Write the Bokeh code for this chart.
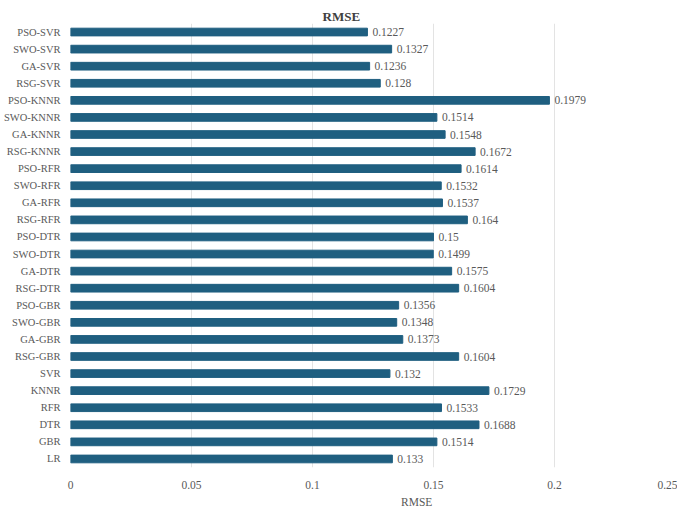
from bokeh.plotting import figure
from bokeh.layouts import column
from bokeh.models import ColumnDataSource, Legend, LegendItem, FactorRange, FixedTicker, LabelSet
from bokeh.embed import file_html
from bokeh.resources import INLINE

categories = ["LR", "GBR", "DTR", "RFR", "KNNR", "SVR",
              "RSG-GBR", "GA-GBR", "SWO-GBR", "PSO-GBR",
              "RSG-DTR", "GA-DTR", "SWO-DTR", "PSO-DTR",
              "RSG-RFR", "GA-RFR", "SWO-RFR", "PSO-RFR",
              "RSG-KNNR", "GA-KNNR", "SWO-KNNR", "PSO-KNNR",
              "RSG-SVR", "GA-SVR", "SWO-SVR", "PSO-SVR"]
rmse = [0.133, 0.1514, 0.1688, 0.1533, 0.1729, 0.132,
        0.1604, 0.1373, 0.1348, 0.1356,
        0.1604, 0.1575, 0.1499, 0.15,
        0.164, 0.1537, 0.1532, 0.1614,
        0.1672, 0.1548, 0.1514, 0.1979,
        0.128, 0.1236, 0.1327, 0.1227]
x_ticks = [0, 0.05, 0.1, 0.15, 0.2, 0.25]
x_tick_labels = ["0", "0.05", "0.1", "0.15", "0.2", "0.25"]
series_name = "RMSE"

FONT = "Liberation Serif"
GREY = "#595959"
BAR = "#1F5F80"

src = ColumnDataSource(dict(cat=categories, val=rmse, lab=[f"{v:g}" for v in rmse]))

p = figure(frame_width=605, frame_height=444,
           y_range=FactorRange(*categories, range_padding=0),
           x_range=(0, 0.25), output_backend="svg", toolbar_location=None,
           min_border_left=62, min_border_right=2, min_border_top=23, min_border_bottom=0)

r = p.hbar(y="cat", right="val", height=0.45, source=src, color=BAR)

labels = LabelSet(x="val", y="cat", text="lab", source=src, x_offset=5, y_offset=0,
                  text_font=FONT, text_font_size="11.5px", text_color=GREY,
                  text_baseline="middle")
p.add_layout(labels)

p.title.text = series_name
p.title.text_font = FONT
p.title.text_font_size = "13px"
p.title.text_font_style = "bold"
p.title.text_color = "#404040"
p.title.align = "left"
p.title.offset = 252
p.title.standoff = 0

p.outline_line_color = None
p.background_fill_color = "white"

p.xaxis.ticker = FixedTicker(ticks=x_ticks)
p.xaxis.major_label_overrides = {t: l for t, l in zip(x_ticks, x_tick_labels)}
p.xaxis.axis_line_color = None
p.xaxis.major_tick_line_color = None
p.xaxis.minor_tick_line_color = None
p.xaxis.major_label_text_font = FONT
p.xaxis.major_label_text_font_size = "11.5px"
p.xaxis.major_label_text_color = GREY
p.xaxis.major_label_standoff = 7

p.yaxis.axis_line_color = None
p.yaxis.major_tick_line_color = None
p.yaxis.minor_tick_line_color = None
p.yaxis.major_label_text_font = FONT
p.yaxis.major_label_text_font_size = "10.5px"
p.yaxis.major_label_text_color = GREY
p.yaxis.major_label_standoff = 4

p.xgrid.grid_line_color = "#e3e3e3"
p.ygrid.grid_line_color = None

# legend strip below the chart
leg_fig = figure(width=677, height=17, x_axis_type=None, y_axis_type=None,
                 x_range=(0, 1), y_range=(0, 1),
                 output_backend="svg", toolbar_location=None,
                 min_border=0, min_border_left=0, min_border_right=0,
                 min_border_top=0, min_border_bottom=0)
leg_fig.outline_line_color = None
leg_fig.xgrid.visible = False
leg_fig.ygrid.visible = False
dummy = leg_fig.hbar(y=[], right=[], height=0.5, color=BAR)

legend = Legend(items=[LegendItem(label=series_name, renderers=[dummy])],
                orientation="horizontal", location=(320, 0),
                border_line_color=None, background_fill_alpha=0,
                label_text_font=FONT, label_text_font_size="11.5px", label_text_color=GREY,
                glyph_width=8, glyph_height=8, padding=0, margin=0, spacing=0,
                label_standoff=3, label_height=12)
leg_fig.add_layout(legend, "center")

layout = column(p, leg_fig, spacing=0)

open("out.html", "w").write(file_html(layout, INLINE))
